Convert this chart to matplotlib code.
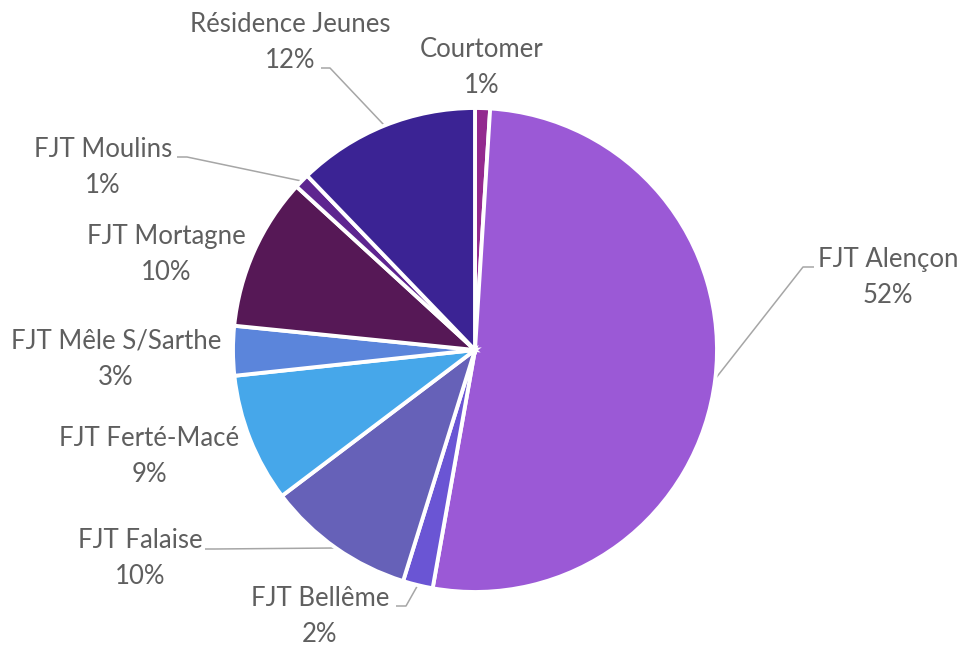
import numpy as np
import matplotlib
matplotlib.use("Agg")
import matplotlib.pyplot as plt

# ---- data ----
categories = ["Courtomer", "FJT Alençon", "FJT Bellême", "FJT Falaise", "FJT Ferté-Macé",
              "FJT Mêle S/Sarthe", "FJT Mortagne", "FJT Moulins", "Résidence Jeunes"]
values = [1.0, 51.8, 2.0, 9.9, 8.6, 3.3, 10.2, 1.0, 12.2]
colors = ["#932A8F", "#9B59D6", "#6A55D4", "#6661B8", "#46A7EA",
          "#5B85DB", "#561856", "#5E2590", "#3B2394"]

W, H = 962, 646
fig = plt.figure(figsize=(W / 100, H / 100), dpi=100)
ax = fig.add_axes([0, 0, 1, 1])

cx, cy, R = 475, H - 350, 242
wedges, _ = ax.pie(values, colors=colors, startangle=90, counterclock=False,
                   center=(cx, cy), radius=R,
                   wedgeprops=dict(edgecolor="white", linewidth=2.8))
ax.set_xlim(0, W)
ax.set_ylim(0, H)
ax.set_aspect("equal")
ax.axis("off")

plt.rcParams["font.family"] = ["Lato", "DejaVu Sans"]
tcol = "#5f5f5f"
fs = 18.5

# label layout: (center x px, first baseline y px, second baseline y px)
label_pos = {
    "Courtomer": (482, 57, 93),
    "FJT Alençon": (888, 267, 303),
    "FJT Bellême": (320, 606, 642),
    "FJT Falaise": (140, 548, 584),
    "FJT Ferté-Macé": (149, 446, 482),
    "FJT Mêle S/Sarthe": (116, 349, 385),
    "FJT Mortagne": (166, 244, 280),
    "FJT Moulins": (103, 157, 193),
    "Résidence Jeunes": (290, 32, 68),
}
# leader line starts (label side) and elbow, in px
leaders = {
    "FJT Alençon": [(814, 267), (803, 267)],
    "Résidence Jeunes": [(321, 68), (330, 68)],
    "FJT Moulins": [(177, 157), (187, 157)],
    "FJT Falaise": [(205, 549), (215, 549)],
    "FJT Bellême": [(396, 606), (406, 606)],
}

total = sum(values)
for w, name, v in zip(wedges, categories, values):
    x, y1, y2 = label_pos[name]
    ax.text(x, H - y1, name, ha="center", va="baseline", fontsize=fs, color=tcol)
    ax.text(x, H - y2, f"{round(v / total * 100):d}%", ha="center", va="baseline",
            fontsize=fs, color=tcol)
    if name in leaders:
        th = np.deg2rad((w.theta1 + w.theta2) / 2)
        ax_, ay_ = cx + R * np.cos(th), cy + R * np.sin(th)
        pts = [(px, H - py) for px, py in leaders[name]] + [(ax_, ay_)]
        xs, ys = zip(*pts)
        ax.plot(xs, ys, color="#A6A6A6", lw=1.1, solid_capstyle="butt", zorder=0.5)

fig.savefig("out.png", dpi=100)
